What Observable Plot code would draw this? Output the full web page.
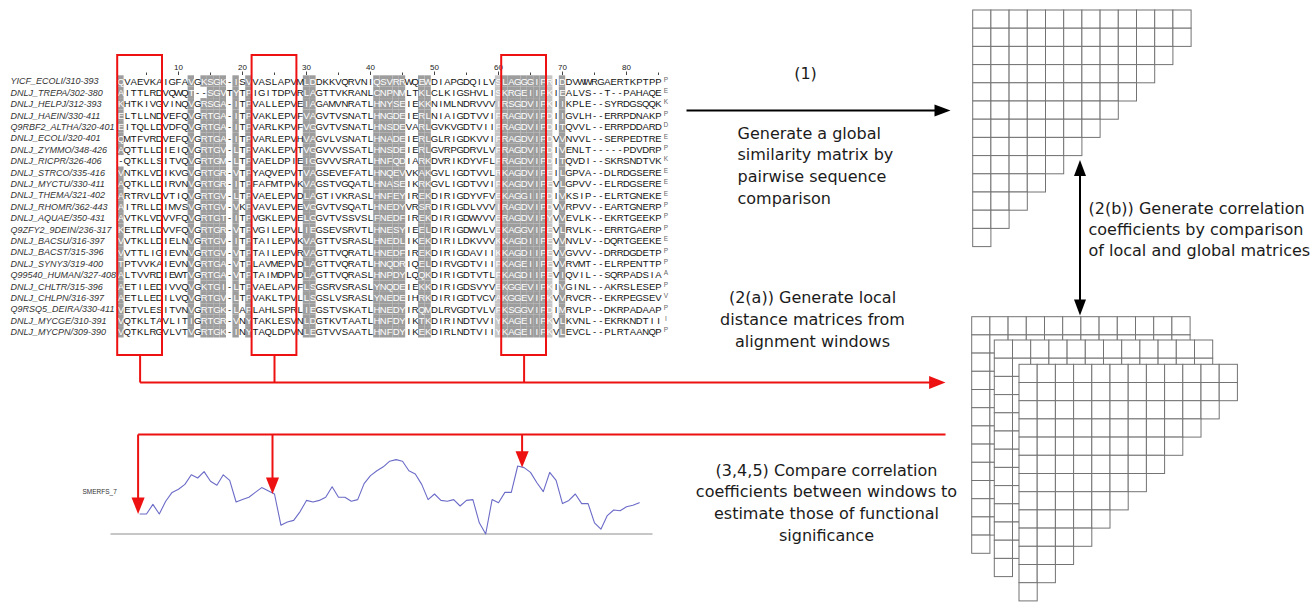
<!DOCTYPE html>
<html><head><meta charset="utf-8">
<script src="https://cdn.jsdelivr.net/npm/d3@7"></script>
<script src="https://cdn.jsdelivr.net/npm/@observablehq/plot@0.6"></script>
<style>html,body{margin:0;padding:0;background:#fff}#chart svg{display:block}</style>
</head><body><div id="chart"></div>
<script>
// ---------------- DATA ----------------
const seqNames = [
  "YICF_ECOLI/310-393","DNLJ_TREPA/302-380","DNLJ_HELPJ/312-393","DNLJ_HAEIN/330-411",
  "Q9RBF2_ALTHA/320-401","DNLJ_ECOLI/320-401","DNLJ_ZYMMO/348-426","DNLJ_RICPR/326-406",
  "DNLJ_STRCO/335-416","DNLJ_MYCTU/330-411","DNLJ_THEMA/321-402","DNLJ_RHOMR/362-443",
  "DNLJ_AQUAE/350-431","Q9ZFY2_9DEIN/236-317","DNLJ_BACSU/316-397","DNLJ_BACST/315-396",
  "DNLJ_SYNY3/319-400","Q99540_HUMAN/327-408","DNLJ_CHLTR/315-396","DNLJ_CHLPN/316-397",
  "Q9RSQ5_DEIRA/330-411","DNLJ_MYCGE/310-391","DNLJ_MYCPN/309-390"
];
const seqRows = [
  "QVAEVKAIGF AVGKSGK-IS VVASLAPVML DDKKVQRVNI QSVRRWQEWD IAPGDQILVS LAGGGIPRID DVWWRGAERT KPTPPP",
  "AITTLRDVQW QT--SGVTYT PIGITDPVRL AGTTVKRANL CNPNMLTKLC LKIGSHVLIS KRGEIIPKIE ALVS--T--P AHAQEE",
  "KHTKIVGVIN QVGRSGA-IT PVALLEPVEI AGAMVNRATL HNYSEIEKKN IMLNDRVVVI RSGDVIPKII KPLE--SYRD GSQQKK",
  "ELTLLNDVEF QVGRTGA-IT PVAKLEPVFV AGVTVSNATL HNGDEIERLN IAIGDTVVIF RAGDVIPDII GVLH--ERRP DNAKPP",
  "EITQLLDVDF QVGRTGA-IT PVARLKPVFV GGVTVSNATL HNSDEVARLG VKVGDTVIIF RAGDVIPDIT QVVL--ERRP DDARDD",
  "QMTFVRDVEF QVGRTGA-IT PVARLEPVHV AGVLVSNATL HNADEIERLG LRIGDKVVIF RAGDVIPDVV NVVL--SERP EDTREE",
  "AQTTLLDIEI QVGRTGV-LT PVAKLEPVTV GGVVVSSATL HNSDEIERLG VRPGDRVLVF RAGDVIPDIV ENLT-----P DVDRPP",
  "-QTKLLSITV QVGRTGM-LT PVAELDPIEI GGVVVSRATL HNFQDIARKD VRIKDYVFLF RAGDVIPDIT QVDI--SKRS NDTVKK",
  "VNTKLVDIKV GVGRTGR-VT PYAQVEPVTV AGSEVEFATL HNQEVVKAKG VLIGDTVVLR KAGDVIPEIL GPVA--DLRD GSEREE",
  "AQTKLLDIRV NVGRTGR-IT PFAFMTPVKV AGSTVGQATL HNASEIKRKG VLIGDTVVIF KAGDVIPEVL GPVV--ELRD GSEREE",
  "ARTRVLDVTI QVGRTGV-LT PVAELEPVDL AGTIVKRASL HNFEYIREKD IRIGDYVFVE KAGGIIPDIV KSIP--ELRT GNEKEE",
  "AITRLLDIMV SVGRTGV-VK PVAVLEPVEV GGVTVSQATL HNEDYVRSRD IRIGDLVVVI RAGDVIPDVV RPVV--EART GNERPP",
  "AVTKLVDVVF QVGRTGT-IT PVGKLEPVEL GGVTVSSVSL FNEDFIREKD IRIGDWVVVE RAGDVIPYVV EVLK--EKRT GEEKPP",
  "KETRLLDVVF QVGRTGR-VT PVGILEPVLI EGSEVSRVTL HNESYIEELD IRIGDWVLVE KAGGVIPEVL RVLK--ERRT GAERPP",
  "VVTKLLDIEL NVGRTGV-IT PTAILEPVKV AGTTVSRASL HNEDLIKEKD IRILDKVVVK KAGDIIPEVV NVLV--DQRT GEEKEE",
  "VVTTLIGIEV NVGRTGV-VT PTAILEPVRV AGTTVQRATL HNEDFIREKD IRIGDAVIIK KAGDIIPEVV GVVV--DRRD GDETPP",
  "TPTVVKAIEV NVGRTGA-VT PLAVMEPVDL AGTTVQRATL HNQDRIQELD IRVGDTVIIF KAGEIIPEVV RVMT--ELRP ENTTPP",
  "ALTVVRDIEW TVGRTGA-VT PTAIMDPVDL AGTTVQRASL HNPDYLQQKD IRIGDTVTLF KAGDIIPEVI QVIL--SQRP ADSIAA",
  "AETILEDIVV QVGKTGI-LT PVAELAPVFL SGSRVSRASL YNQDEIEKKD IRIGDSVYVE KGGEVIPKIV GINL--AKRS LESEPP",
  "AETLLEDILV QVGRTGV-LT PVAKLTPVLL SGSLVSRASL YNEDEIHRKD IRIGDTVCVA KGGEVIPKVV RVCR--EKRP EGSEVV",
  "VETVLESITV NVGRTGK-LA PLAHLSPRLI EGSTVSKATL HNEDYIRQMD LRVGDTVLVF KSGGVIPDIM RVLP--DKRP ADAAPP",
  "VQTKLTAVLI TIGRTGR-VN YTAKLESVNL DGTKVTAATL HNFDYIKTKD IRINDTVVIY KAGEIIPKVL KVNL--EKRK NDTIII",
  "VQTKLRGVLV TVGRTGK-IN YTAQLDPVNL EGTVVSAATL HNFDYIKEKD IRLNDTVIIY KAGEIIPKVL EVCL--PLRT AANQPP"
];
// conserved (shaded) alignment columns, 1-based
const shadedCols = [1,12,14,15,16,17,19,21,30,31,41,42,43,44,45,48,49,61,62,63,64,65,66,67,70];
const lightCols  = [60,68];
const rulerLabels = [10,20,30,40,50,60,70,80];
const rulerTicks  = [5,10,15,20,25,30,35,40,45,50,55,60,65,70,75,80,85];
// alignment windows (first and last column)
const windowCols = [[1,7],[22,28],[61,67]];
// SMERFS score for each 7-column window (window k centred on column k+4)
const smerfsLabel = "SMERFS_7";
const smerfsScores = [
  0.25,0.25,0.37,0.25,0.41,0.52,0.56,0.62,0.74,0.70,
  0.78,0.66,0.61,0.74,0.67,0.40,0.43,0.46,0.52,0.58,
  0.54,0.50,0.11,0.15,0.17,0.28,0.42,0.40,0.42,0.46,
  0.59,0.46,0.46,0.41,0.43,0.63,0.73,0.79,0.84,0.91,
  0.93,0.91,0.79,0.75,0.62,0.43,0.50,0.42,0.41,0.43,
  0.35,0.42,0.43,0.14,0.00,0.43,0.39,0.52,0.52,0.85,
  0.83,0.77,0.64,0.53,0.77,0.67,0.38,0.42,0.50,0.38,
  0.38,0.14,0.06,0.23,0.30,0.29,0.34,0.36,0.39
];
const matrixRowsN = 13, matrixColsN = 12;
const text1Label = "(1)";
const text1Lines = ["Generate a global","similarity matrix by","pairwise sequence","comparison"];
const text2aLines = ["(2(a)) Generate local","distance matrices from","alignment windows"];
const text2bLines = ["(2(b)) Generate correlation","coefficients by comparison","of local and global matrices"];
const text3Lines = ["(3,4,5) Compare correlation","coefficients between windows to","estimate those of functional","significance"];

// ---------------- LAYOUT ----------------
const W = 1315, H = 602;
const RED = "#ee1111";
const colW = 6.4, col0 = 114;            // column centre = col0 + colW*c
const rowY0 = 81, rowH = 11.4;
const colX = c => col0 + colW * c;
const rowY = i => rowY0 + rowH * i;
const seqs = seqRows.map(s => s.replace(/ /g, ""));
const nCols = 86;

const shadeRects = [];
const residues = [];
seqs.forEach((s, i) => {
  for (let c = 1; c <= s.length; c++) {
    const ch = s[c - 1];
    const dark = shadedCols.includes(c), light = lightCols.includes(c);
    const shaded = (dark || light) && ch !== "-";
    if (shaded) shadeRects.push({x1: colX(c) - colW/2, x2: colX(c) + colW/2, y1: rowY(i) - rowH/2, y2: rowY(i) + rowH/2, f: dark ? "#9d9d9d" : "#c6c6c6"});
    residues.push({x: colX(c), y: rowY(i), ch, shaded, last: c === nCols});
  }
});

const boxTop = 55, boxBottom = 355;
const boxes = windowCols.map(([a, b]) => ({x1: colX(a) - colW/2, x2: colX(b) + colW/2, cx: (colX(a) + colX(b)) / 2, centre: (a + b) / 2}));

const baseY = 533.5, scoreH = 80;
const smerfs = smerfsScores.map((v, k) => ({x: colX(k + 4), y: baseY - v * scoreH}));
const smerfsAt = centre => smerfs[centre - 4];

const lineA = 382, lineB = 434, arrowEndX = 945;
const redLinks = [];
boxes.forEach(b => redLinks.push({x1: b.cx, y1: boxBottom, x2: b.cx, y2: lineA}));
redLinks.push({x1: boxes[0].cx, y1: lineA, x2: arrowEndX - 10, y2: lineA});
redLinks.push({x1: boxes[0].cx - 2, y1: lineB, x2: arrowEndX, y2: lineB});
const redHeads = [{x: arrowEndX, y: lineA, dir: "right"}];
boxes.forEach(b => {
  const p = smerfsAt(b.centre);
  redLinks.push({x1: b.cx - 2, y1: lineB, x2: b.cx - 2, y2: p.y - 10});
  redHeads.push({x: b.cx - 2, y: p.y, dir: "down"});
});

// matrices
const cell = 18.2;
const matrices = [
  {ox: 972.7, oy: 10},
  {ox: 971.7, oy: 316.7},
  {ox: 994.3, oy: 340},
  {ox: 1019, oy: 364.3}
];
const cells = [];
matrices.forEach((m, mi) => {
  for (let r = 0; r < matrixRowsN; r++)
    for (let c = 0; c < Math.min(matrixColsN, matrixRowsN - r); c++)
      cells.push({x1: m.ox + c*cell, x2: m.ox + (c+1)*cell, y1: m.oy + r*cell, y2: m.oy + (r+1)*cell, mi});
});

// arrow head symbols (tip at the point)
function head(angle, ratio) {
  const a = angle * Math.PI / 180, ca = Math.cos(a), sa = Math.sin(a);
  return {draw(ctx, size) {
    const r = Math.sqrt(size / Math.PI), L = 2 * r, w = ratio * r;
    const pts = [[0, 0], [-L, -w/2], [-L, w/2]].map(([u, v]) => [u*ca - v*sa, u*sa + v*ca]);
    ctx.moveTo(pts[0][0], pts[0][1]); ctx.lineTo(pts[1][0], pts[1][1]); ctx.lineTo(pts[2][0], pts[2][1]); ctx.closePath();
  }};
}

const arrowX = 1079.5;
const blackLinks = [
  {x1: 686, y1: 110, x2: 940, y2: 110},
  {x1: arrowX, y1: 170, x2: arrowX, y2: 305}
];

const FONT = "DejaVu Sans, Verdana, sans-serif";
const SEQF = "Liberation Sans, Arial, sans-serif";
const txt = (lines, x, y0, dy) => lines.map((t, i) => ({t, x, y: y0 + i * dy}));
const labelsStart = [
  ...txt(text1Lines, 737, 133, 21.7),
  ...txt(text2bLines, 1088, 208, 21)
];
const labelsMiddle = [
  ...txt([text1Label], 805, 73, 0),
  ...txt(text2aLines, 812, 297, 22),
  ...txt(text3Lines, 826, 470, 21.8)
];

const plot = Plot.plot({
  width: W, height: H, margin: 0,
  x: {domain: [0, W], range: [0, W], axis: null},
  y: {domain: [0, H], range: [0, H], axis: null},
  style: {background: "#fff", overflow: "visible"},
  marks: [
    // alignment
    Plot.rect(shadeRects, {x1: "x1", x2: "x2", y1: "y1", y2: "y2", fill: "f"}),
    Plot.text(residues.filter(d => !d.last), {x: "x", y: "y", text: "ch", fill: d => d.shaded ? "#ffffff" : "#111", fontSize: 9.5, fontFamily: SEQF, lineAnchor: "middle"}),
    Plot.text(residues.filter(d => d.last), {x: d => d.x + 1, y: d => d.y - 2, text: "ch", fill: "#666", fontSize: 6.5, fontFamily: SEQF, lineAnchor: "middle"}),
    Plot.text(seqNames, {x: 10, y: (d, i) => rowY(i), text: d => d, textAnchor: "start", lineAnchor: "middle", fontSize: 9, fontStyle: "italic", fontFamily: SEQF, fill: "#333"}),
    Plot.text(rulerLabels, {x: d => colX(d), y: 66.5, text: d => String(d), fontSize: 8, fontFamily: SEQF, fill: "#222", lineAnchor: "middle"}),
    Plot.link(rulerTicks, {x1: d => colX(d), x2: d => colX(d), y1: d => d % 10 ? 72 : 71, y2: 74.5, stroke: "#444", strokeWidth: 1}),
    // windows
    Plot.rect(boxes, {x1: "x1", x2: "x2", y1: boxTop, y2: boxBottom, fill: "none", stroke: RED, strokeWidth: 2}),
    // SMERFS profile
    Plot.link([0], {x1: 110, x2: 652, y1: baseY, y2: baseY, stroke: "#b4b4b4", strokeWidth: 1.5}),
    Plot.line(smerfs, {x: "x", y: "y", stroke: "#6b6bc8", strokeWidth: 1.1}),
    Plot.text([smerfsLabel], {x: 82, y: 491, text: d => d, textAnchor: "start", lineAnchor: "middle", fontSize: 6.5, fontFamily: SEQF, fill: "#333"}),
    // red connectors
    Plot.link(redLinks, {x1: "x1", y1: "y1", x2: "x2", y2: "y2", stroke: RED, strokeWidth: 2}),
    Plot.dot(redHeads.filter(d => d.dir === "right"), {x: "x", y: "y", r: 8.2, symbol: head(0, 1.6), fill: RED, stroke: "none"}),
    Plot.dot(redHeads.filter(d => d.dir === "down"), {x: "x", y: "y", r: 8.2, symbol: head(90, 1.6), fill: RED, stroke: "none"}),
    // matrices
    Plot.rect(cells, {x1: "x1", x2: "x2", y1: "y1", y2: "y2", fill: "#fff", stroke: "#737373", strokeWidth: 1}),
    // black arrows
    Plot.link(blackLinks, {x1: "x1", y1: "y1", x2: "x2", y2: "y2", stroke: "#000", strokeWidth: 2}),
    Plot.dot([{x: 950, y: 110}], {x: "x", y: "y", r: 8, symbol: head(0, 1.5), fill: "#000", stroke: "none"}),
    Plot.dot([{x: arrowX, y: 159.5}], {x: "x", y: "y", r: 8, symbol: head(-90, 1.5), fill: "#000", stroke: "none"}),
    Plot.dot([{x: arrowX, y: 315}], {x: "x", y: "y", r: 8, symbol: head(90, 1.5), fill: "#000", stroke: "none"}),
    // annotations
    Plot.text(labelsStart, {x: "x", y: "y", text: "t", textAnchor: "start", lineAnchor: "middle", fontSize: 16, fontFamily: FONT, fill: "#1b1b1b"}),
    Plot.text(labelsMiddle, {x: "x", y: "y", text: "t", textAnchor: "middle", lineAnchor: "middle", fontSize: 16, fontFamily: FONT, fill: "#1b1b1b"})
  ]
});
document.getElementById("chart").appendChild(plot);
</script>
</body></html>
